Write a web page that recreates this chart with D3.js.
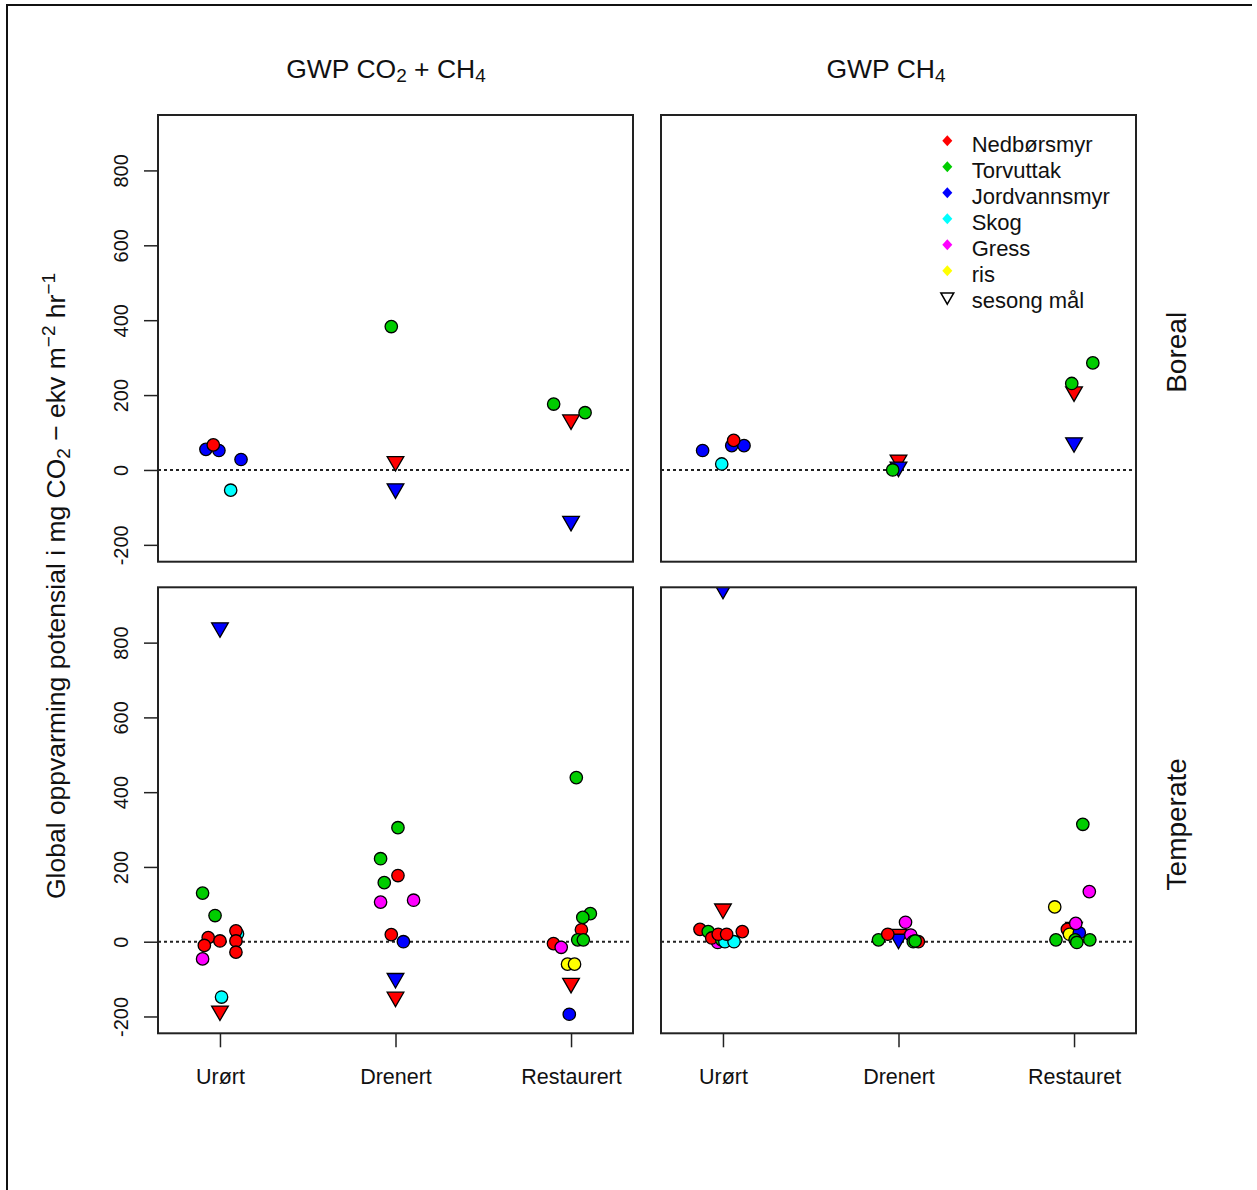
<!DOCTYPE html>
<html>
<head>
<meta charset="utf-8">
<script src="https://cdn.jsdelivr.net/npm/d3@7"></script>
<style>
  html, body { margin: 0; padding: 0; background: #fff; }
  svg { display: block; }
  text { font-family: "Liberation Sans", Arial, sans-serif; fill: #111; }
</style>
</head>
<body>
<svg id="chart" width="1257" height="1190"></svg>
<script>
// ---------------- DATA ----------------
const categoriesLeft = ["Urørt", "Drenert", "Restaurert"];
const categoriesRight = ["Urørt", "Drenert", "Restauret"];
const yTicks = [-200, 0, 200, 400, 600, 800];
const groups = ["Nedbørsmyr", "Torvuttak", "Jordvannsmyr", "Skog", "Gress", "ris"];
const groupColors = ["#FF0000", "#00CD00", "#0000FF", "#00FFFF", "#FF00FF", "#FFFF00"];
const seasonLabel = "sesong mål";
const rowLabels = ["Boreal", "Temperate"];

// circles: [category, jitter, value, group]
const borealCO2CH4 = [
  [1, -0.080, 55, "Jordvannsmyr"],
  [1, -0.006, 52, "Jordvannsmyr"],
  [1, 0.120, 28, "Jordvannsmyr"],
  [1, -0.038, 67, "Nedbørsmyr"],
  [1, 0.061, -54, "Skog"],
  [2, -0.024, 383, "Torvuttak"],
  [3, -0.099, 176, "Torvuttak"],
  [3, 0.080, 153, "Torvuttak"]
];
// seasonal (triangles): [category, value, group]
const borealCO2CH4Season = [
  [2, 23, "Nedbørsmyr"], [2, -50, "Jordvannsmyr"],
  [3, 134, "Nedbørsmyr"], [3, -137, "Jordvannsmyr"]
];

const borealCH4 = [
  [1, -0.116, 52, "Jordvannsmyr"],
  [1, 0.050, 65, "Jordvannsmyr"],
  [1, 0.120, 65, "Jordvannsmyr"],
  [1, 0.061, 79, "Nedbørsmyr"],
  [1, -0.007, 16, "Skog"],
  [2, -0.033, 0, "Torvuttak"],
  [3, -0.013, 231, "Torvuttak"],
  [3, 0.107, 286, "Torvuttak"]
];
const borealCH4Season = [
  [2, 27, "Nedbørsmyr"], [2, 8, "Jordvannsmyr"],
  [3, 209, "Nedbørsmyr"], [3, 73, "Jordvannsmyr"]
];

const temperateCO2CH4 = [
  [1, -0.099, 130, "Torvuttak"],
  [1, -0.028, 70, "Torvuttak"],
  [1, -0.099, -46, "Gress"],
  [1, 0.100, 21, "Skog"],
  [1, 0.009, -148, "Skog"],
  [1, -0.067, 11, "Nedbørsmyr"],
  [1, -0.089, -10, "Nedbørsmyr"],
  [1, 0.000, 2, "Nedbørsmyr"],
  [1, 0.091, 29, "Nedbørsmyr"],
  [1, 0.091, 2, "Nedbørsmyr"],
  [1, 0.091, -28, "Nedbørsmyr"],
  [2, 0.014, 305, "Torvuttak"],
  [2, -0.085, 222, "Torvuttak"],
  [2, -0.064, 158, "Torvuttak"],
  [2, 0.014, 177, "Nedbørsmyr"],
  [2, -0.085, 106, "Gress"],
  [2, 0.103, 111, "Gress"],
  [2, -0.024, 19, "Nedbørsmyr"],
  [2, 0.045, 0, "Jordvannsmyr"],
  [3, 0.030, 439, "Torvuttak"],
  [3, 0.110, 75, "Torvuttak"],
  [3, 0.067, 65, "Torvuttak"],
  [3, 0.059, 32, "Nedbørsmyr"],
  [3, 0.038, 5, "Torvuttak"],
  [3, 0.070, 5, "Torvuttak"],
  [3, -0.100, -5, "Nedbørsmyr"],
  [3, -0.056, -15, "Gress"],
  [3, -0.020, -60, "ris"],
  [3, 0.020, -60, "ris"],
  [3, -0.010, -194, "Jordvannsmyr"]
];
const temperateCO2CH4Season = [
  [1, 840, "Jordvannsmyr"], [1, -185, "Nedbørsmyr"],
  [2, -98, "Jordvannsmyr"], [2, -148, "Nedbørsmyr"],
  [3, -111, "Nedbørsmyr"]
];

const temperateCH4 = [
  [1, -0.131, 33, "Nedbørsmyr"],
  [1, -0.084, 27, "Torvuttak"],
  [1, -0.030, -2, "Gress"],
  [1, -0.064, 10, "Nedbørsmyr"],
  [1, -0.007, 5, "Torvuttak"],
  [1, 0.011, 0, "Skog"],
  [1, 0.063, 0, "Skog"],
  [1, -0.027, 20, "Nedbørsmyr"],
  [1, 0.021, 20, "Nedbørsmyr"],
  [1, 0.110, 27, "Nedbørsmyr"],
  [2, -0.114, 5, "Torvuttak"],
  [2, -0.061, 20, "Nedbørsmyr"],
  [2, 0.040, 52, "Gress"],
  [2, 0.070, 18, "Gress"],
  [2, 0.113, 0, "Nedbørsmyr"],
  [2, 0.084, 0, "Torvuttak"],
  [2, 0.095, 2, "Torvuttak"],
  [3, 0.050, 314, "Torvuttak"],
  [3, 0.087, 134, "Gress"],
  [3, -0.110, 93, "ris"],
  [3, -0.038, 33, "Nedbørsmyr"],
  [3, -0.026, 20, "ris"],
  [3, 0.030, 24, "Jordvannsmyr"],
  [3, 0.010, 49, "Gress"],
  [3, -0.103, 5, "Torvuttak"],
  [3, 0.006, 5, "Torvuttak"],
  [3, 0.016, -2, "Torvuttak"],
  [3, 0.090, 5, "Torvuttak"]
];
const temperateCH4Season = [
  [1, 943, "Jordvannsmyr"], [1, 88, "Nedbørsmyr"],
  [2, 20, "Nedbørsmyr"], [2, 7, "Jordvannsmyr"],
  [3, 39, "Nedbørsmyr"]
];

// ---------------- LAYOUT ----------------
const svg = d3.select("#chart");
const color = d3.scaleOrdinal().domain(groups).range(groupColors);
const colX = [[158, 633], [661, 1136]];
const rowY = [[115, 561.7], [587.3, 1033.3]];
const xDomain = [0.647, 3.353];
const yDomain = [-245, 948];
const FONT = "\"Liberation Sans\", Arial, sans-serif";
const R = 6.2; // symbol size

// outer frame
svg.append("path").attr("d", "M7,1190 L7,5 L1252,5")
  .attr("fill", "none").attr("stroke", "#111").attr("stroke-width", 2);

const panels = [
  {row: 0, col: 0, pts: borealCO2CH4, season: borealCO2CH4Season},
  {row: 0, col: 1, pts: borealCH4, season: borealCH4Season},
  {row: 1, col: 0, pts: temperateCO2CH4, season: temperateCO2CH4Season},
  {row: 1, col: 1, pts: temperateCH4, season: temperateCH4Season}
];

function triDown(s) {
  const r0 = 1.5551 * s, xc = 1.3468 * s, yc = 0.7776 * s;
  return `M0,${r0} L${xc},${-yc} L${-xc},${-yc} Z`;
}

panels.forEach((p, i) => {
  const [x0, x1] = colX[p.col];
  const [y0, y1] = rowY[p.row];
  const x = d3.scaleLinear().domain(xDomain).range([x0, x1]);
  const y = d3.scaleLinear().domain(yDomain).range([y1, y0]);
  const g = svg.append("g");

  const clipId = "clip" + i;
  svg.append("clipPath").attr("id", clipId)
    .append("rect").attr("x", x0).attr("y", y0).attr("width", x1 - x0).attr("height", y1 - y0);

  // zero line
  g.append("line")
    .attr("x1", x0).attr("x2", x1).attr("y1", y(0)).attr("y2", y(0))
    .attr("stroke", "#222").attr("stroke-width", 2).attr("stroke-dasharray", "3,3");

  const marks = g.append("g").attr("clip-path", `url(#${clipId})`);

  // season triangles
  marks.selectAll("path.tri").data(p.season).enter().append("path")
    .attr("class", "tri")
    .attr("d", triDown(R))
    .attr("transform", d => `translate(${x(d[0])},${y(d[1])})`)
    .attr("fill", d => color(d[2]))
    .attr("stroke", "#000").attr("stroke-width", 1.3);

  // circles
  marks.selectAll("circle").data(p.pts).enter().append("circle")
    .attr("cx", d => x(d[0] + d[1]))
    .attr("cy", d => y(d[2]))
    .attr("r", R)
    .attr("fill", d => color(d[3]))
    .attr("stroke", "#000").attr("stroke-width", 1.3);

  // box
  g.append("rect").attr("x", x0).attr("y", y0).attr("width", x1 - x0).attr("height", y1 - y0)
    .attr("fill", "none").attr("stroke", "#222").attr("stroke-width", 2);

  // y axis on left column
  if (p.col === 0) {
    const ax = g.append("g").attr("transform", `translate(${x0},0)`)
      .call(d3.axisLeft(y).tickValues(yTicks).tickSize(14).tickFormat(d => String(d)));
    ax.select(".domain").remove();
    ax.selectAll(".tick line").attr("stroke", "#222").attr("stroke-width", 1.5);
    ax.selectAll(".tick text")
      .attr("transform", "rotate(-90)")
      .attr("x", 0).attr("y", -30).attr("dy", null)
      .attr("text-anchor", "middle")
      .style("font-family", FONT).style("font-size", "20px").attr("fill", "#111");
  }
  // x axis on bottom row
  if (p.row === 1) {
    const cats = p.col === 0 ? categoriesLeft : categoriesRight;
    const ax = g.append("g").attr("transform", `translate(0,${y1})`)
      .call(d3.axisBottom(x).tickValues([1, 2, 3]).tickSize(14).tickFormat((d, k) => cats[k]));
    ax.select(".domain").remove();
    ax.selectAll(".tick line").attr("stroke", "#222").attr("stroke-width", 1.5);
    ax.selectAll(".tick text")
      .attr("y", 51).attr("dy", null)
      .style("font-family", FONT).style("font-size", "21.5px").attr("fill", "#111");
  }
});

// column titles
function title(cx, parts) {
  const t = svg.append("text").attr("x", cx).attr("y", 78).attr("text-anchor", "middle")
    .style("font-size", "26.5px");
  parts.forEach(([txt, sub]) => {
    const ts = t.append("tspan").text(txt);
    if (sub) ts.attr("baseline-shift", "-22%").style("font-size", "19px");
  });
}
title(386, [["GWP CO"], ["2", true], [" + CH"], ["4", true]]);
title(886, [["GWP CH"], ["4", true]]);

// row labels
rowLabels.forEach((lab, r) => {
  const cy = (rowY[r][0] + rowY[r][1]) / 2 + 14;
  svg.append("text").attr("transform", `translate(1186,${cy}) rotate(-90)`)
    .attr("text-anchor", "middle").style("font-size", "28px").text(lab);
});

// y-axis title
{
  const t = svg.append("text").attr("transform", "translate(65,586) rotate(-90)")
    .attr("text-anchor", "middle").style("font-size", "26.5px");
  t.append("tspan").text("Global oppvarming potensial i mg CO");
  t.append("tspan").text("2").attr("baseline-shift", "-25%").style("font-size", "19px");
  t.append("tspan").text(" \u2212 ekv m");
  t.append("tspan").text("\u22122").attr("baseline-shift", "55%").style("font-size", "19px");
  t.append("tspan").text(" hr");
  t.append("tspan").text("\u22121").attr("baseline-shift", "55%").style("font-size", "19px");
}

// legend
const legX = 947.3, legY0 = 140.7, legDy = 26;
const lg = svg.append("g");
groups.forEach((gname, k) => {
  const cy = legY0 + k * legDy;
  lg.append("path").attr("d", "M0,-5.5 L5,0 L0,5.5 L-5,0 Z")
    .attr("transform", `translate(${legX},${cy})`).attr("fill", color(gname));
  lg.append("text").attr("x", 971.7).attr("y", cy + 11).style("font-size", "22px").text(gname);
});
{
  const cy = legY0 + groups.length * legDy;
  lg.append("path").attr("d", triDown(4.8))
    .attr("transform", `translate(${legX},${cy})`).attr("fill", "none")
    .attr("stroke", "#000").attr("stroke-width", 1.5);
  lg.append("text").attr("x", 971.7).attr("y", cy + 11).style("font-size", "22px").text(seasonLabel);
}
</script>
</body>
</html>
